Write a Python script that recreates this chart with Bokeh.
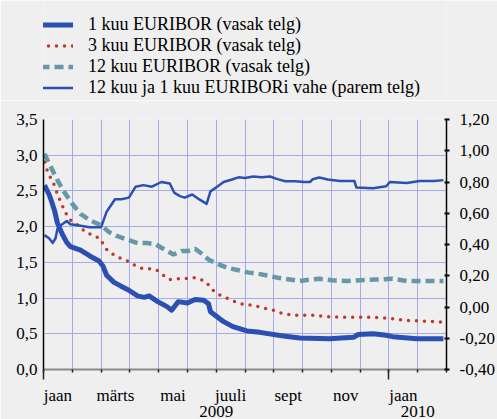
import calendar
from bokeh.plotting import figure
from bokeh.layouts import column
from bokeh.models import (Range1d, LinearAxis, FixedTicker, Legend, LegendItem)
from bokeh.embed import file_html
from bokeh.resources import INLINE

# ---- data ----
eur1_dates = ["2009-01-02", "2009-01-07", "2009-01-09", "2009-01-13", "2009-01-16", "2009-01-21",
              "2009-01-26", "2009-01-30", "2009-02-09", "2009-02-18", "2009-02-27", "2009-03-03",
              "2009-03-07", "2009-03-15", "2009-03-22", "2009-03-31", "2009-04-09", "2009-04-16",
              "2009-04-21", "2009-04-30", "2009-05-10", "2009-05-15", "2009-05-22", "2009-06-01",
              "2009-06-09", "2009-06-18", "2009-06-23", "2009-06-25", "2009-07-09", "2009-07-19",
              "2009-08-03", "2009-08-17", "2009-09-11", "2009-09-28", "2009-10-30", "2009-11-24",
              "2009-11-29", "2009-12-15", "2009-12-29", "2010-01-05", "2010-01-31", "2010-02-26"]
eur1_vals = [2.58, 2.45, 2.38, 2.22, 2.05, 1.90,
             1.78, 1.72, 1.67, 1.59, 1.52, 1.45,
             1.32, 1.22, 1.17, 1.11, 1.03, 1.01,
             1.03, 0.95, 0.88, 0.83, 0.95, 0.93,
             0.98, 0.97, 0.92, 0.81, 0.67, 0.60,
             0.54, 0.52, 0.47, 0.44, 0.43, 0.45,
             0.49, 0.50, 0.48, 0.46, 0.43, 0.43]

eur3_dates = ["2009-01-02", "2009-01-05", "2009-01-08", "2009-01-12", "2009-01-17", "2009-01-21",
              "2009-01-28", "2009-02-04", "2009-02-15", "2009-02-22", "2009-03-01", "2009-03-04",
              "2009-03-09", "2009-03-16", "2009-03-23", "2009-03-31", "2009-04-07", "2009-04-15",
              "2009-04-22", "2009-04-29", "2009-05-06", "2009-05-13", "2009-05-20", "2009-05-29",
              "2009-06-06", "2009-06-13", "2009-06-21", "2009-06-25", "2009-07-01", "2009-07-08",
              "2009-07-16", "2009-07-23", "2009-07-31", "2009-08-08", "2009-08-16", "2009-08-24",
              "2009-09-01", "2009-09-09", "2009-09-17", "2009-09-25", "2009-10-11", "2009-10-19",
              "2009-10-28", "2009-11-13", "2009-11-29", "2009-12-15", "2010-01-01", "2010-01-10",
              "2010-01-18", "2010-02-02", "2010-02-18", "2010-02-26"]
eur3_vals = [2.90, 2.79, 2.70, 2.60, 2.42, 2.30,
             2.11, 2.05, 1.91, 1.88, 1.82, 1.73,
             1.65, 1.60, 1.55, 1.51, 1.45, 1.41,
             1.41, 1.39, 1.32, 1.26, 1.27, 1.27,
             1.29, 1.27, 1.22, 1.14, 1.07, 1.02,
             0.98, 0.94, 0.91, 0.90, 0.88, 0.85,
             0.83, 0.79, 0.77, 0.76, 0.76, 0.75,
             0.74, 0.73, 0.73, 0.73, 0.72, 0.70,
             0.69, 0.68, 0.67, 0.66]

eur12_dates = ["2009-01-02", "2009-01-08", "2009-01-16", "2009-01-23", "2009-02-01", "2009-02-09",
               "2009-02-18", "2009-03-01", "2009-03-09", "2009-03-18", "2009-03-29", "2009-04-09",
               "2009-04-19", "2009-04-28", "2009-05-06", "2009-05-17", "2009-05-26", "2009-06-02",
               "2009-06-09", "2009-06-16", "2009-06-23", "2009-07-02", "2009-07-14", "2009-07-25",
               "2009-08-04", "2009-08-15", "2009-08-28", "2009-09-07", "2009-09-18", "2009-09-28",
               "2009-10-11", "2009-10-19", "2009-11-01", "2009-11-17", "2009-12-01", "2009-12-18",
               "2010-01-05", "2010-01-20", "2010-02-03", "2010-02-26"]
eur12_vals = [3.02, 2.86, 2.65, 2.49, 2.32, 2.18,
              2.09, 2.02, 1.93, 1.87, 1.82, 1.77,
              1.77, 1.75, 1.69, 1.61, 1.66, 1.66,
              1.69, 1.62, 1.54, 1.48, 1.42, 1.39,
              1.36, 1.34, 1.31, 1.28, 1.26, 1.24,
              1.26, 1.27, 1.25, 1.24, 1.25, 1.26,
              1.27, 1.24, 1.24, 1.24]

spread_dates = ["2009-01-02", "2009-01-07", "2009-01-11", "2009-01-14", "2009-01-16", "2009-01-19",
                "2009-01-26", "2009-01-30", "2009-02-09", "2009-02-18", "2009-03-01", "2009-03-07",
                "2009-03-16", "2009-03-23", "2009-03-31", "2009-04-07", "2009-04-15", "2009-04-24",
                "2009-05-04", "2009-05-13", "2009-05-18", "2009-05-24", "2009-05-29", "2009-06-06",
                "2009-06-13", "2009-06-21", "2009-06-25", "2009-07-02", "2009-07-09", "2009-07-18",
                "2009-07-25", "2009-08-01", "2009-08-10", "2009-08-19", "2009-08-28", "2009-09-04",
                "2009-09-13", "2009-09-23", "2009-10-03", "2009-10-09", "2009-10-12", "2009-10-19",
                "2009-10-28", "2009-11-10", "2009-11-25", "2009-11-27", "2009-12-15", "2009-12-29",
                "2010-01-02", "2010-01-20", "2010-02-03", "2010-02-17", "2010-02-26"]
spread_vals = [0.46, 0.44, 0.41, 0.44, 0.50, 0.52,
               0.55, 0.53, 0.52, 0.51, 0.51, 0.61,
               0.69, 0.69, 0.70, 0.77, 0.78, 0.77,
               0.80, 0.79, 0.73, 0.71, 0.70, 0.72,
               0.69, 0.66, 0.74, 0.77, 0.80, 0.816,
               0.83, 0.826, 0.835, 0.83, 0.835, 0.82,
               0.805, 0.805, 0.80, 0.80, 0.818, 0.829,
               0.816, 0.807, 0.807, 0.765, 0.76, 0.773,
               0.80, 0.794, 0.807, 0.807, 0.812]

month_labels = ["jaan", "märts", "mai", "juuli", "sept", "nov", "jaan"]
year_labels = ["2009", "2010"]
year_label_pos = [6, 13]
left_ticks = [0.0, 0.5, 1.0, 1.5, 2.0, 2.5, 3.0, 3.5]
right_ticks = [-0.4, -0.2, 0.0, 0.2, 0.4, 0.6, 0.8, 1.0, 1.2]
series_names = ["1 kuu EURIBOR (vasak telg)", "3 kuu EURIBOR (vasak telg)",
                "12 kuu EURIBOR (vasak telg)", "12 kuu ja 1 kuu EURIBORi vahe (parem telg)"]


def to_pos(s):
    y, m, d = map(int, s.split("-"))
    return (y - 2009) * 12 + (m - 1) + (d - 1) / calendar.monthrange(y, m)[1]


FONT = "Liberation Serif, serif"
BG = "#efefef"
GRID = "#a7a9e8"
BLUE = "#2c4fb2"
RED = "#c0392b"
TEAL = "#6698a8"

series = {
    "1m": (eur1_dates, eur1_vals, dict(line_color=BLUE, line_width=5, line_join="round")),
    "3m": (eur3_dates, eur3_vals, dict(line_color=RED, line_width=3.5, line_dash="0 8",
                                       line_cap="round")),
    "12m": (eur12_dates, eur12_vals, dict(line_color=TEAL, line_width=4.5, line_dash="9 5")),
    "spread": (spread_dates, spread_vals, dict(line_color=BLUE, line_width=2.5,
                                               line_join="round")),
}

# ---------------- main chart ----------------
p = figure(width=497, height=319, output_backend="svg", toolbar_location=None,
           x_range=Range1d(0, 14), y_range=Range1d(0, 3.5),
           min_border_left=43, min_border_right=50, min_border_top=19, min_border_bottom=50)
p.extra_y_ranges = {"right": Range1d(-0.4, 1.2)}
p.background_fill_color = BG
p.border_fill_color = BG
p.outline_line_color = None

p.xgrid.ticker = FixedTicker(ticks=list(range(15)))
p.ygrid.ticker = FixedTicker(ticks=left_ticks)
p.xgrid.grid_line_color = GRID
p.ygrid.grid_line_color = GRID

ya = p.yaxis[0]
ya.ticker = FixedTicker(ticks=left_ticks)
ya.major_label_overrides = {t: f"{t:.1f}".replace(".", ",") for t in left_ticks}
ya.major_tick_out = 0
ya.major_tick_in = 0
ya.minor_tick_out = 0
ya.minor_tick_in = 0
ya.major_tick_line_color = None
ya.minor_tick_line_color = None
ya.axis_line_color = "black"
ya.axis_line_width = 1.5
ya.major_label_standoff = 6
ya.major_label_text_font = FONT
ya.major_label_text_font_size = "17px"
ya.major_label_text_color = "black"

ra = LinearAxis(y_range_name="right", ticker=FixedTicker(ticks=right_ticks))
ra.major_label_overrides = {t: f"{t:.2f}".replace(".", ",") for t in right_ticks}
ra.major_tick_out = 3
ra.major_tick_in = 2
ra.major_tick_line_color = "black"
ra.major_tick_line_width = 2
ra.minor_tick_line_color = None
ra.minor_tick_out = 0
ra.minor_tick_in = 0
ra.axis_line_color = "black"
ra.axis_line_width = 1.5
ra.major_label_standoff = 10
ra.major_label_text_font = FONT
ra.major_label_text_font_size = "17px"
ra.major_label_text_color = "black"
p.add_layout(ra, "right")

# bottom axis 1: tick marks only (long ticks at year starts)
xa = p.xaxis[0]
xa.ticker = FixedTicker(ticks=[0, 12], minor_ticks=list(range(15)))
xa.major_tick_out = 10
xa.major_tick_in = 0
xa.minor_tick_out = 3
xa.minor_tick_in = 0
xa.major_tick_line_color = "#222222"
xa.minor_tick_line_color = "#222222"
xa.major_tick_line_width = 1.5
xa.minor_tick_line_width = 1.5
xa.axis_line_color = "#8a8a8a"
xa.axis_line_width = 2
xa.major_label_text_font_size = "0px"
xa.major_label_text_color = None
xa.major_label_standoff = 0

# bottom axis 2: month names; bottom axis 3: years
mpos = [0.5 + 2 * i for i in range(len(month_labels))]
ma = LinearAxis(ticker=FixedTicker(ticks=mpos),
                major_label_overrides={pos: lab for pos, lab in zip(mpos, month_labels)})
yr = LinearAxis(ticker=FixedTicker(ticks=year_label_pos),
                major_label_overrides={pos: lab for pos, lab in zip(year_label_pos, year_labels)})
for ax, so in ((ma, 6), (yr, -2)):
    ax.axis_line_color = None
    ax.major_tick_line_color = None
    ax.minor_tick_line_color = None
    ax.major_tick_out = 0
    ax.major_tick_in = 0
    ax.minor_tick_out = 0
    ax.minor_tick_in = 0
    ax.major_label_standoff = so
    ax.major_label_text_font = FONT
    ax.major_label_text_font_size = "17px"
    ax.major_label_text_color = "black"
    p.add_layout(ax, "below")

for key in ["12m", "3m", "1m", "spread"]:
    d, v, st = series[key]
    extra = {"y_range_name": "right"} if key == "spread" else {}
    p.line([to_pos(s) for s in d], v, **st, **extra)

# ---------------- legend strip ----------------
# same series drawn again, but the strip's y range lies above all values, so only the
# legend entries are visible here
lg = figure(width=497, height=100, output_backend="svg", toolbar_location=None,
            x_range=Range1d(0, 14), y_range=Range1d(10, 11), x_axis_type=None, y_axis_type=None,
            min_border_left=42, min_border_right=0, min_border_top=0, min_border_bottom=0)
lg.background_fill_color = BG
lg.border_fill_color = BG
lg.outline_line_color = None
lg.grid.visible = False
items = []
for name, key in zip(series_names, ["1m", "3m", "12m", "spread"]):
    d, v, st = series[key]
    rr = lg.line([to_pos(s) for s in d], v, **st)
    items.append(LegendItem(label=name, renderers=[rr]))
legend = Legend(items=items, location=(-3, 2.5), padding=0, margin=0, spacing=0,
                glyph_width=33, glyph_height=21, label_height=21, label_standoff=15,
                label_text_font=FONT, label_text_font_size="18px", label_text_color="black",
                background_fill_alpha=0, border_line_color=None)
lg.add_layout(legend, "center")

layout = column(lg, p, spacing=0)
html = file_html(layout, INLINE)
html = html.replace("<body>", '<body style="background-color:#efefef;">', 1)
open("out.html", "w").write(html)
